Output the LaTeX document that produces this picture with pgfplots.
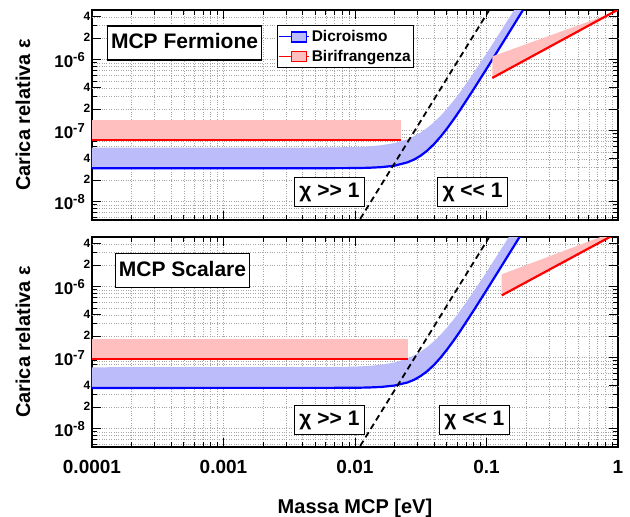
\documentclass[border=0pt]{standalone}
\usepackage{fontspec}
\setmainfont{Liberation Sans}
\usepackage{pgfplots}
\pgfplotsset{compat=1.18}
\definecolor{bandblue}{RGB}{188,188,250}
\definecolor{bandred}{RGB}{255,191,191}
\newcommand{\fs}[1]{\fontsize{#1}{#1}\selectfont\bfseries}
\newcommand{\ex}[1]{10\raisebox{6pt}{\fs{13}-#1}}
\tikzset{
  lbox/.style={draw, fill=white, line width=1.1pt, font=\fs{21}, text height=15pt, text depth=4pt, inner xsep=3.5pt, inner ysep=7.5pt},
  cbox/.style={draw, fill=white, line width=1.1pt, font=\fs{21}, text height=15pt, text depth=4pt, inner xsep=5pt, inner ysep=5pt},
}
\begin{document}
\begin{tikzpicture}
\begin{axis}[name=top,
    xmode=log, ymode=log,
    scale only axis, width=526pt, height=210pt,
    xmin=1e-4, xmax=1, ymin=5.5e-9, ymax=5e-6,
    xtick={1e-4,1e-3,1e-2,1e-1,1},
    xticklabels={},
    minor xtick={2e-4,3e-4,4e-4,5e-4,6e-4,7e-4,8e-4,9e-4,2e-3,3e-3,4e-3,5e-3,6e-3,7e-3,8e-3,9e-3,0.02,0.03,0.04,0.05,0.06,0.07,0.08,0.09,0.2,0.3,0.4,0.5,0.6,0.7,0.8,0.9},
    ytick={1e-8,1e-7,1e-6},
    yticklabels={\ex{8},\ex{7},\ex{6}},
    minor ytick={6e-9,7e-9,8e-9,9e-9,2e-8,3e-8,4e-8,5e-8,6e-8,7e-8,8e-8,9e-8,2e-7,3e-7,4e-7,5e-7,6e-7,7e-7,8e-7,9e-7,2e-6,3e-6,4e-6},
    extra y ticks={2e-8,4e-8,2e-7,4e-7,2e-6,4e-6},
    extra y tick labels={2,4,2,4,2,4},
    extra y tick style={yticklabel style={font=\fs{12}, xshift=5.5pt, yshift=4.5pt}},
    yticklabel style={font=\fs{17}, anchor=base east, inner sep=0pt, xshift=-7pt, yshift=-8pt},
    grid=both,
    major grid style={dotted, gray!70, line width=0.6pt},
    minor grid style={dotted, gray!70, line width=0.6pt},
    major tick length=9pt, minor tick length=5pt,
    tick style={black, line width=0.9pt},
    axis line style={line width=1.2pt},
    ylabel={Carica relativa ε},
    ylabel style={font=\fs{20}, at={(axis description cs:-0.131,0.5)}, anchor=center},
  legend style={at={(rel axis cs:0.352,0.929)}, anchor=north west, draw=black, line width=1.1pt, fill=white, font=\fs{15.5}, inner xsep=1pt, inner ysep=3pt, row sep=3pt, cells={anchor=west}},
  legend image code/.code={\path (0pt,0pt) -- (30pt,0pt); \draw[#1, line width=1.4pt] (12pt,-5pt) rectangle (27pt,5pt);}]
\addlegendimage{draw=blue, fill=bandblue}
\addlegendentry{Dicroismo}
\addlegendimage{draw=red, fill=bandred}
\addlegendentry{Birifrangenza}
% Dicroismo band
\addplot[fill=bandblue, draw=none, forget plot] coordinates {
(1e-4,2.951e-8) (0.006,2.955e-8) (0.01,2.965e-8) (0.01259,2.992e-8) (0.01585,3.055e-8) (0.01995,3.199e-8) (0.02512,3.573e-8) (0.02818,3.917e-8) (0.03162,4.436e-8) (0.03548,5.236e-8) (0.03981,6.427e-8) (0.04467,8.166e-8) (0.05012,1.069e-7) (0.05623,1.435e-7) (0.0631,1.959e-7) (0.07943,3.767e-7) (0.1,7.396e-7) (0.1259,1.469e-6) (0.1585,2.924e-6) (0.1995,5.821e-6)
(0.1778,6.592e-6) (0.1585,4.677e-6) (0.1259,2.377e-6) (0.1,1.219e-6) (0.07943,6.397e-7) (0.0631,3.491e-7) (0.05623,2.642e-7) (0.05012,2.037e-7) (0.04467,1.611e-7) (0.03981,1.309e-7) (0.03548,1.094e-7) (0.03162,9.419e-8) (0.02818,8.356e-8) (0.02512,7.586e-8) (0.01995,6.668e-8) (0.01585,6.223e-8) (0.01259,5.984e-8) (0.01,5.875e-8) (0.00631,5.781e-8) (1e-4,5.754e-8)
} -- cycle;
\addplot[blue, line width=2.2pt, forget plot] coordinates {
(1e-4,2.951e-8) (0.006,2.955e-8) (0.01,2.965e-8) (0.01259,2.992e-8) (0.01585,3.055e-8) (0.01995,3.199e-8) (0.02512,3.573e-8) (0.02818,3.917e-8) (0.03162,4.436e-8) (0.03548,5.236e-8) (0.03981,6.427e-8) (0.04467,8.166e-8) (0.05012,1.069e-7) (0.05623,1.435e-7) (0.0631,1.959e-7) (0.07943,3.767e-7) (0.1,7.396e-7) (0.1259,1.469e-6) (0.1585,2.924e-6) (0.1995,5.821e-6)
};
% Birifrangenza
\addplot[fill=bandred, draw=none, forget plot] coordinates {(1e-4,7.46e-8) (0.0224,7.46e-8) (0.0224,1.43e-7) (1e-4,1.43e-7)} -- cycle;
\addplot[red, line width=2.2pt, forget plot] coordinates {(1e-4,7.46e-8) (0.0224,7.46e-8)};
\addplot[fill=bandred, draw=none, forget plot] coordinates {(0.1107,5.52e-7) (1,5.06e-6) (1,4.85e-6) (0.1107,1.11e-6)} -- cycle;
\addplot[red, line width=2.2pt, forget plot] coordinates {(0.1107,5.52e-7) (1,5.06e-6)};
% chi = 1
\addplot[black, line width=1.8pt, dash pattern=on 6pt off 4pt, forget plot] coordinates {(0.01,4.33e-9) (0.1259,8.63e-6)};
\node[lbox] at (rel axis cs:0.176,0.843) {MCP Fermione};
\node[cbox] at (rel axis cs:0.4515,0.133) {χ >{}> 1};
\node[cbox] at (rel axis cs:0.7234,0.133) {χ <{}< 1};
\end{axis}
\begin{axis}[name=bot, at={(0pt,-227pt)},
    xmode=log, ymode=log,
    scale only axis, width=526pt, height=210pt,
    xmin=1e-4, xmax=1, ymin=5.5e-9, ymax=5e-6,
    xtick={1e-4,1e-3,1e-2,1e-1,1},
    xticklabels={0.0001,0.001,0.01,0.1,1},
    xticklabel style={font=\fs{19}, anchor=base, inner sep=0pt, yshift=-26pt},
    minor xtick={2e-4,3e-4,4e-4,5e-4,6e-4,7e-4,8e-4,9e-4,2e-3,3e-3,4e-3,5e-3,6e-3,7e-3,8e-3,9e-3,0.02,0.03,0.04,0.05,0.06,0.07,0.08,0.09,0.2,0.3,0.4,0.5,0.6,0.7,0.8,0.9},
    ytick={1e-8,1e-7,1e-6},
    yticklabels={\ex{8},\ex{7},\ex{6}},
    minor ytick={6e-9,7e-9,8e-9,9e-9,2e-8,3e-8,4e-8,5e-8,6e-8,7e-8,8e-8,9e-8,2e-7,3e-7,4e-7,5e-7,6e-7,7e-7,8e-7,9e-7,2e-6,3e-6,4e-6},
    extra y ticks={2e-8,4e-8,2e-7,4e-7,2e-6,4e-6},
    extra y tick labels={2,4,2,4,2,4},
    extra y tick style={yticklabel style={font=\fs{12}, xshift=5.5pt, yshift=4.5pt}},
    yticklabel style={font=\fs{17}, anchor=base east, inner sep=0pt, xshift=-7pt, yshift=-8pt},
    grid=both,
    major grid style={dotted, gray!70, line width=0.6pt},
    minor grid style={dotted, gray!70, line width=0.6pt},
    major tick length=9pt, minor tick length=5pt,
    tick style={black, line width=0.9pt},
    axis line style={line width=1.2pt},
    ylabel={Carica relativa ε},
    ylabel style={font=\fs{20}, at={(axis description cs:-0.131,0.5)}, anchor=center},
    xlabel={Massa MCP [eV]},
    xlabel style={font=\fs{20}, at={(axis description cs:0.5,0)}, anchor=base, yshift=-66pt}]
\addplot[fill=bandblue, draw=none, forget plot] coordinates {
(1e-4,3.741e-8) (0.006,3.745e-8) (0.01,3.758e-8) (0.01259,3.789e-8) (0.01585,3.860e-8) (0.01995,4.036e-8) (0.02512,4.467e-8) (0.02818,4.875e-8) (0.03162,5.508e-8) (0.03548,6.449e-8) (0.03981,7.852e-8) (0.04467,9.938e-8) (0.05012,1.297e-7) (0.05623,1.734e-7) (0.0631,2.360e-7) (0.07943,4.529e-7) (0.1,8.892e-7) (0.1259,1.762e-6) (0.1585,3.508e-6) (0.1995,6.982e-6)
(0.1585,6.152e-6) (0.1259,3.119e-6) (0.1,1.600e-6) (0.07943,8.395e-7) (0.0631,4.571e-7) (0.05623,3.447e-7) (0.05012,2.655e-7) (0.04467,2.094e-7) (0.03981,1.694e-7) (0.03548,1.413e-7) (0.03162,1.213e-7) (0.02818,1.074e-7) (0.02512,9.727e-8) (0.01995,8.531e-8) (0.01585,7.925e-8) (0.01259,7.621e-8) (0.01,7.464e-8) (0.00631,7.345e-8) (1e-4,7.311e-8)
} -- cycle;
\addplot[blue, line width=2.2pt, forget plot] coordinates {
(1e-4,3.741e-8) (0.006,3.745e-8) (0.01,3.758e-8) (0.01259,3.789e-8) (0.01585,3.860e-8) (0.01995,4.036e-8) (0.02512,4.467e-8) (0.02818,4.875e-8) (0.03162,5.508e-8) (0.03548,6.449e-8) (0.03981,7.852e-8) (0.04467,9.938e-8) (0.05012,1.297e-7) (0.05623,1.734e-7) (0.0631,2.360e-7) (0.07943,4.529e-7) (0.1,8.892e-7) (0.1259,1.762e-6) (0.1585,3.508e-6) (0.1995,6.982e-6)
};
\addplot[fill=bandred, draw=none, forget plot] coordinates {(1e-4,9.68e-8) (0.0253,9.68e-8) (0.0253,1.85e-7) (1e-4,1.85e-7)} -- cycle;
\addplot[red, line width=2.2pt, forget plot] coordinates {(1e-4,9.68e-8) (0.0253,9.68e-8)};
\addplot[fill=bandred, draw=none, forget plot] coordinates {(0.1306,7.53e-7) (1,5.77e-6) (1,6.2e-6) (0.1306,1.49e-6)} -- cycle;
\addplot[red, line width=2.2pt, forget plot] coordinates {(0.1306,7.53e-7) (1,5.77e-6)};
\addplot[black, line width=1.8pt, dash pattern=on 6pt off 4pt, forget plot] coordinates {(0.01,4.33e-9) (0.1259,8.63e-6)};
\node[lbox] at (rel axis cs:0.172,0.840) {MCP Scalare};
\node[cbox] at (rel axis cs:0.4515,0.129) {χ >{}> 1};
\node[cbox] at (rel axis cs:0.727,0.129) {χ <{}< 1};
\end{axis}
\pgfresetboundingbox
\useasboundingbox (-92pt,-297pt) rectangle (538pt,220pt);
\end{tikzpicture}
\end{document}
